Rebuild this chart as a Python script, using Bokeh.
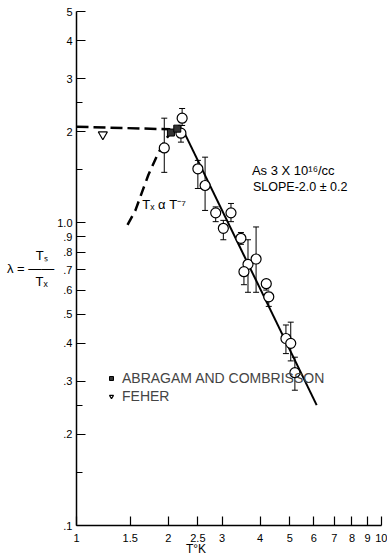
from bokeh.plotting import figure
from bokeh.models import (ColumnDataSource, Whisker, TeeHead, Label, FixedTicker,
                          Legend, LegendItem)
from bokeh.embed import file_html
from bokeh.resources import INLINE

# ---------------- data ----------------
T_meas = [1.94, 2.22, 2.20, 2.50, 2.64, 2.86, 3.21, 3.03, 3.46, 3.65, 3.88, 3.54, 4.19, 4.27, 4.86, 5.04, 5.20]
lam_meas = [1.77, 2.22, 1.98, 1.51, 1.33, 1.08, 1.08, 0.96, 0.89, 0.73, 0.76, 0.69, 0.63, 0.57, 0.415, 0.40, 0.32]
lam_hi = [2.22, 2.39, 2.10, 1.61, 1.65, 1.13, 1.16, 1.02, 0.93, 0.88, 0.97, 0.71, 0.65, 0.59, 0.46, 0.47, 0.36]
lam_lo = [1.47, 2.10, 1.85, 1.30, 1.10, 1.01, 1.01, 0.88, 0.85, 0.59, 0.59, 0.625, 0.60, 0.53, 0.37, 0.35, 0.28]

T_abragam = [2.04, 2.14]
lam_abragam = [1.99, 2.05]
T_feher = [1.22]
lam_feher = [1.96]

T_fit = [2.24, 6.13]
lam_fit = [2.02, 0.25]
T_flat = [1.0, 2.03]
lam_flat = [2.08, 2.04]
T_curve = [1.47, 1.56, 1.64, 1.72, 1.84, 1.95, 2.06]
lam_curve = [0.985, 1.10, 1.265, 1.44, 1.675, 1.875, 2.02]

y_ticks = [0.1, 0.2, 0.3, 0.4, 0.5, 0.6, 0.7, 0.8, 0.9, 1.0, 2.0, 3.0, 4.0, 5.0]
y_tick_labels = [".1", ".2", ".3", ".4", ".5", ".6", ".7", ".8", ".9", "1.0", "2", "3", "4", "5"]
y_minor_ticks = [0.15, 0.25, 1.5, 2.5]
x_ticks = [1.0, 1.5, 2.0, 2.5, 3.0, 4.0, 5.0, 6.0, 7.0, 8.0, 9.0, 10.0]
x_tick_labels = ["1", "1.5", "2", "2.5", "3", "4", "5", "6", "7", "8", "9", "10"]

FONT = "Liberation Sans"

p = figure(width=387, height=558, x_axis_type="log", y_axis_type="log",
           x_range=(1, 10), y_range=(0.1, 5),
           output_backend="svg", toolbar_location=None,
           min_border_left=76, min_border_right=6, min_border_top=11, min_border_bottom=31)
p.xgrid.visible = False
p.ygrid.visible = False
p.outline_line_color = None
p.background_fill_color = "white"
p.border_fill_color = "white"

for ax in (p.xaxis[0], p.yaxis[0]):
    ax.axis_line_width = 1.5
    ax.axis_line_color = "black"
    ax.major_tick_in = 9
    ax.major_tick_out = 0
    ax.minor_tick_in = 6
    ax.minor_tick_out = 0
    ax.major_tick_line_width = 1.2
    ax.minor_tick_line_width = 1.2
    ax.major_label_text_font = FONT
    ax.major_label_text_font_size = "11px"
    ax.major_label_text_color = "black"
    ax.axis_label_text_font = FONT
    ax.axis_label_text_font_style = "normal"
    ax.axis_label_text_color = "black"
    ax.axis_label_text_font_size = "12px"
    ax.axis_label_standoff = 0

p.xaxis.ticker = FixedTicker(ticks=x_ticks, minor_ticks=[])
p.xaxis.major_label_overrides = dict(zip(x_ticks, x_tick_labels))
p.xaxis.major_label_standoff = 8
p.xaxis.axis_label = "T°K\u2003\u2003\u2003\u2003\u2003\u2002"
p.xaxis.axis_label_standoff = -3

p.yaxis.ticker = FixedTicker(ticks=y_ticks, minor_ticks=y_minor_ticks)
p.yaxis.major_label_overrides = dict(zip(y_ticks, y_tick_labels))
p.yaxis.major_label_standoff = 4
p.yaxis.axis_label = "\u2003\u2003\u2009Tₛ\u2002\nλ = ——\n\u2003\u2003\u2009Tₓ\u2002"
p.yaxis.axis_label_orientation = "horizontal"
p.yaxis.axis_label_text_font_size = "13px"
p.yaxis.axis_label_text_line_height = 0.85

# curves
p.line(T_flat, lam_flat, line_color="black", line_width=2.5, line_dash="12 5")
p.line(T_curve, lam_curve, line_color="black", line_width=2.5, line_dash="10 6")
p.line(T_fit, lam_fit, line_color="black", line_width=2)

src = ColumnDataSource(dict(T=T_meas, lam=lam_meas, hi=lam_hi, lo=lam_lo))
wh = Whisker(source=src, base="T", upper="hi", lower="lo", dimension="height",
             line_color="black", line_width=1, level="underlay",
             upper_head=TeeHead(size=6, line_color="black", line_width=1),
             lower_head=TeeHead(size=6, line_color="black", line_width=1))
p.add_layout(wh)
p.scatter("T", "lam", source=src, marker="circle", size=10, fill_color="white",
          line_color="black", line_width=1.2)

r_ab = p.scatter(T_abragam, lam_abragam, marker="square", size=7, fill_color="#333333",
                 line_color="black", line_width=1)
r_fe = p.scatter(T_feher, lam_feher, marker="inverted_triangle", size=9, fill_color="white",
                 line_color="black", line_width=1.2)

legend = Legend(items=[LegendItem(label="ABRAGAM AND COMBRISSON", renderers=[r_ab]),
                       LegendItem(label="FEHER", renderers=[r_fe])],
                location=(30, 120), orientation="vertical",
                background_fill_alpha=0, border_line_color=None,
                padding=0, margin=0, spacing=0, glyph_width=10, glyph_height=18,
                label_height=18, label_standoff=6,
                label_text_font=FONT, label_text_font_size="14px")
p.add_layout(legend)

def lab(x, y, text, size="13px", align="left", baseline="middle"):
    p.add_layout(Label(x=x, y=y, text=text, text_font=FONT, text_font_size=size,
                       text_align=align, text_baseline=baseline, text_color="black"))

lab(3.76, 1.494, "As  3 X 10¹⁶/cc")
lab(3.79, 1.314, "SLOPE-2.0 ± 0.2", size="12.5px")
lab(1.643, 1.155, "Tₓ α T⁻⁷", size="13px")

open("out.html", "w").write(file_html(p, INLINE))
